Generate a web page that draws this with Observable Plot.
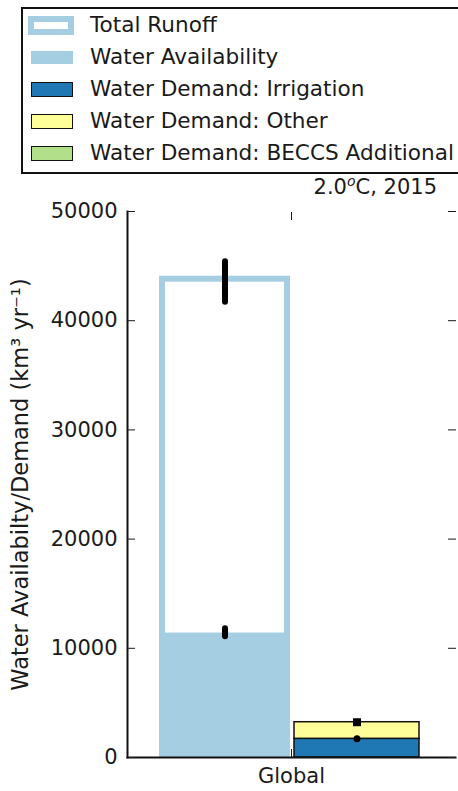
<!DOCTYPE html>
<html>
<head>
<meta charset="utf-8">
<script src="https://cdn.jsdelivr.net/npm/d3@7"></script>
<script src="https://cdn.jsdelivr.net/npm/@observablehq/plot@0.6"></script>
<style>
  body { margin: 0; background: #fff; font-family: "DejaVu Sans", sans-serif; color: #1a1a1a; }
  #wrap { position: relative; width: 458px; height: 791px; overflow: hidden; background: #fff; }
  #header { position: relative; height: 195px; z-index: 2; }
  #legend { position: absolute; left: 21px; top: 7px; width: 470px; height: 167px; box-sizing: border-box;
            border: 2px solid #111; background: #fff; }
  .row { position: absolute; left: 0; height: 32px; width: 100%; }
  .sw { position: absolute; box-sizing: border-box; }
  .lt { position: absolute; left: 67px; top: 0; line-height: 32px; font-size: 21.6px; white-space: nowrap; }
  #title { position: absolute; right: 21px; top: 177px; font-size: 21px; line-height: 21px; white-space: nowrap; }
  #title sup { font-size: 14px; font-style: italic; vertical-align: 8px; line-height: 0; }
</style>
</head>
<body>
<div id="wrap">
  <div id="header">
    <div id="legend"></div>
    <div id="title">2.0<sup>o</sup>C, 2015</div>
  </div>
  <div id="chart"></div>
</div>
<script>
// ---- data ----
const regions = ["Global"];
const totalRunoff = [43800];
const totalRunoffLow = [41700];
const totalRunoffHigh = [45400];
const waterAvailability = [11400];
const waterAvailabilityLow = [11050];
const waterAvailabilityHigh = [11800];
const demandIrrigation = [1710];
const demandOther = [1520];
const demandBECCS = [0];
const yTicks = [0, 10000, 20000, 30000, 40000, 50000];
const seriesGroups = ["Supply", "Demand"];
const demandComponents = ["Irrigation", "Other", "BECCS Additional"];
const componentColors = ["#1f78b4", "#ffff99", "#b2df8a"];
const supplyColor = "#a6cee3";
const legendLabels = ["Total Runoff", "Water Availability", "Water Demand: Irrigation", "Water Demand: Other", "Water Demand: BECCS Additional"];
const yLabel = "Water Availabilty/Demand (km\u00B3 yr\u207B\u00B9)";

// ---- legend ----
const legend = document.getElementById("legend");
const swatchStyles = [
  {left: 5, w: 46, h: 19, bg: "#fff", border: `6px solid ${supplyColor}`},
  {left: 8, w: 42, h: 13, bg: supplyColor, border: "none"},
  {left: 8, w: 42, h: 15, bg: componentColors[0], border: "1.5px solid #111"},
  {left: 8, w: 42, h: 15, bg: componentColors[1], border: "1.5px solid #111"},
  {left: 8, w: 42, h: 15, bg: componentColors[2], border: "1.5px solid #111"}
];
legendLabels.forEach((label, i) => {
  const row = document.createElement("div");
  row.className = "row";
  row.style.top = (i * 32) + "px";
  const s = swatchStyles[i];
  const sw = document.createElement("div");
  sw.className = "sw";
  Object.assign(sw.style, {left: s.left + "px", width: s.w + "px", height: s.h + "px",
    top: (16 - s.h / 2) + "px", background: s.bg, border: s.border});
  const t = document.createElement("div");
  t.className = "lt";
  t.textContent = label;
  row.append(sw, t);
  legend.append(row);
});

// ---- tables ----
const supply = regions.map((region, i) => ({
  region, series: seriesGroups[0],
  runoff: totalRunoff[i], rLo: totalRunoffLow[i], rHi: totalRunoffHigh[i],
  avail: waterAvailability[i], aLo: waterAvailabilityLow[i], aHi: waterAvailabilityHigh[i]
}));
const demandVals = [demandIrrigation, demandOther, demandBECCS];
const demand = regions.flatMap((region, i) => demandComponents.map((c, j) => ({
  region, series: seriesGroups[1], component: c, value: demandVals[j][i]
}))).filter(d => d.value > 0);
const demandPts = regions.map((region, i) => ({
  region, series: seriesGroups[1],
  irr: demandIrrigation[i],
  total: demandIrrigation[i] + demandOther[i] + demandBECCS[i]
}));

const chart = Plot.plot({
  width: 458,
  height: 596,
  marginTop: 16,
  marginBottom: 34,
  marginLeft: 127,
  marginRight: 3,
  style: {fontFamily: "DejaVu Sans, sans-serif", fontSize: "21px", color: "#1a1a1a", background: "transparent"},
  fx: {domain: regions, padding: 0},
  x: {domain: seriesGroups, paddingInner: 0.053, paddingOuter: 0.26, axis: null},
  y: {domain: [0, 50000]},
  color: {domain: demandComponents, range: componentColors},
  marks: [
    Plot.barY(supply, {fx: "region", x: "series", y: "runoff", fill: "white", stroke: supplyColor, strokeWidth: 6, clip: true}),
    Plot.barY(supply, {fx: "region", x: "series", y: "avail", fill: supplyColor, insetLeft: -3, insetRight: -3}),
    Plot.ruleX(supply, {fx: "region", x: "series", y1: "rLo", y2: "rHi", stroke: "black", strokeWidth: 6, strokeLinecap: "round"}),
    Plot.ruleX(supply, {fx: "region", x: "series", y1: "aLo", y2: "aHi", stroke: "black", strokeWidth: 6, strokeLinecap: "round"}),
    Plot.barY(demand, Plot.stackY({fx: "region", x: "series", y: "value", fill: "component", stroke: "#111", strokeWidth: 1.5})),
    Plot.dot(demandPts, {fx: "region", x: "series", y: "irr", r: 3.5, fill: "black", symbol: "circle"}),
    Plot.dot(demandPts, {fx: "region", x: "series", y: "total", r: 4.5, fill: "black", symbol: "square"}),
    Plot.frame({anchor: "left", stroke: "#111", strokeWidth: 2}),
    Plot.frame({anchor: "bottom", stroke: "#111", strokeWidth: 2}),
    Plot.axisY({anchor: "left", ticks: yTicks, tickSize: -8, tickPadding: 18, tickFormat: d => String(d), label: null}),
    Plot.axisY({anchor: "left", ticks: yTicks, tickSize: 0, tickFormat: () => "", fontSize: 22.5,
      label: yLabel, labelAnchor: "center", labelOffset: 115, labelArrow: "none"}),
    Plot.axisY({anchor: "right", ticks: yTicks, tickSize: -8, tickFormat: () => "", label: null}),
    Plot.axisFx({anchor: "bottom", tickSize: -8, tickPadding: 19, label: null}),
    Plot.axisFx({anchor: "top", tickSize: -8, tickFormat: () => "", label: null})
  ]
});
document.getElementById("chart").append(chart);
</script>
</body>
</html>
